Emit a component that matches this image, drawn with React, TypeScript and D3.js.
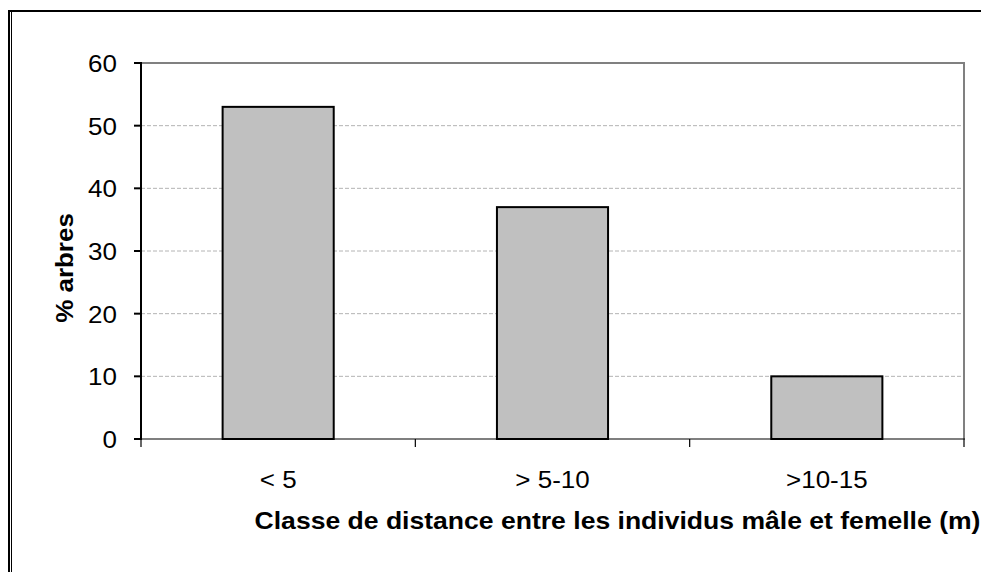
import React from "react";
import * as d3 from "d3";

const categories = ["< 5", "> 5-10", ">10-15"];
const values = [53, 37, 10];
const yTicks = [0, 10, 20, 30, 40, 50, 60];
const yTitle = "% arbres";
const xTitle = "Classe de distance entre les individus mâle et femelle (m)";

export default function App() {
  const W = 981, H = 572;
  const left = 141, right = 964, top = 63, bottom = 439;
  const x = d3.scaleBand<string>().domain(categories).range([left, right]).paddingInner(0).paddingOuter(0);
  const y = d3.scaleLinear().domain([0, 60]).range([bottom, top]);
  const bw = x.bandwidth() * 0.405;
  const font = "Liberation Sans, Arial, sans-serif";
  const sx = 1.13;
  const fs = 23;
  const bounds = [left, ...categories.map((c) => (x(c) as number) + x.bandwidth())];
  return (
    <div style={{ position: "absolute", left: 0, top: 0 }}>
      <svg width={W} height={H} style={{ display: "block" }}>
        <rect x={0} y={0} width={W} height={H} fill="#fff" />
        {/* frame */}
        <line x1={8} x2={W} y1={11} y2={11} stroke="#000" strokeWidth={2} />
        <line x1={9} x2={9} y1={10} y2={H} stroke="#000" strokeWidth={2} />
        <line x1={11.5} x2={11.5} y1={12} y2={H} stroke="#000" strokeWidth={1} />
        {/* gridlines */}
        {yTicks.filter((t) => t > 0 && t < 60).map((t) => (
          <line key={t} x1={left} x2={right} y1={y(t)} y2={y(t)} stroke="#b4b4b4" strokeWidth={1} strokeDasharray="4,2" />
        ))}
        {/* plot border top/right */}
        <line x1={left} x2={right + 1} y1={top} y2={top} stroke="#808080" strokeWidth={2} />
        <line x1={right} x2={right} y1={top} y2={bottom} stroke="#808080" strokeWidth={2} />
        {/* bars */}
        {categories.map((c, i) => {
          const cx = (x(c) as number) + x.bandwidth() / 2;
          return (
            <rect key={c} x={cx - bw / 2} y={y(values[i])} width={bw} height={bottom - y(values[i])}
              fill="#c0c0c0" stroke="#000" strokeWidth={2} />
          );
        })}
        {/* axes */}
        <line x1={left} x2={left} y1={top - 1} y2={bottom + 1} stroke="#000" strokeWidth={2} />
        {yTicks.map((t) => (
          <g key={t}>
            <line x1={left - 7} x2={left} y1={y(t)} y2={y(t)} stroke="#000" strokeWidth={2} />
            <text transform={`translate(117,${y(t) + 9}) scale(${sx},1)`} textAnchor="end" fontFamily={font} fontSize={fs} fill="#000">{t}</text>
          </g>
        ))}
        <line x1={left} x2={right + 1} y1={bottom} y2={bottom} stroke="#000" strokeWidth={1.2} />
        {bounds.map((b, i) => (
          <line key={i} x1={b} x2={b} y1={bottom} y2={bottom + 8} stroke="#000" strokeWidth={1.2} />
        ))}
        {categories.map((c) => (
          <text key={c} transform={`translate(${(x(c) as number) + x.bandwidth() / 2},488) scale(${sx},1)`} textAnchor="middle" fontFamily={font} fontSize={fs} fill="#000">{c}</text>
        ))}
        <text transform={`translate(617.5,529) scale(1.155,1)`} textAnchor="middle" fontFamily={font} fontSize={fs} fontWeight="bold" fill="#000">{xTitle}</text>
        <text transform={`translate(73,268) rotate(-90) scale(${sx},1)`} textAnchor="middle" fontFamily={font} fontSize={fs} fontWeight="bold" fill="#000">{yTitle}</text>
      </svg>
    </div>
  );
}
